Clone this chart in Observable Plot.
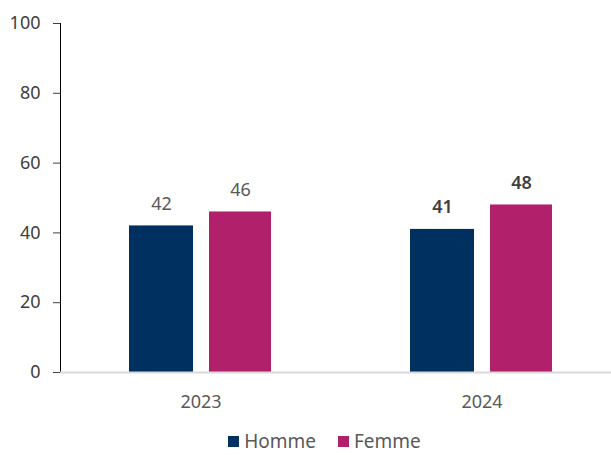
<!DOCTYPE html>
<html>
<head>
<meta charset="utf-8">
<script src="https://cdn.jsdelivr.net/npm/d3@7"></script>
<script src="https://cdn.jsdelivr.net/npm/@observablehq/plot@0.6"></script>
<style>
  body { margin: 0; background: #fff; font-family: "Noto Sans", sans-serif; overflow: hidden; }
  #legend { display: flex; justify-content: center; gap: 22px; font-size: 19px; line-height: 18px; color: #595959; height: 18px; align-items: center; margin-top: 8px; padding-left: 38px; }
  .sw { display: inline-block; width: 11px; height: 11px; margin-right: 5px; }
  .item { display: flex; align-items: center; }
</style>
</head>
<body>
<div id="chart"></div>
<div id="legend"></div>
<script>
const years = ["2023", "2024"];
const series = ["Homme", "Femme"];
const homme = [42, 41];
const femme = [46, 48];
const yTicks = [0, 20, 40, 60, 80, 100];
const colors = ["#00305F", "#B0206B"];
const labelBold = [false, true];

const data = [];
years.forEach((y, i) => {
  data.push({year: y, sex: "Homme", value: homme[i], bold: labelBold[i]});
  data.push({year: y, sex: "Femme", value: femme[i], bold: labelBold[i]});
});

const W = 611, H = 424;
const inset = {Homme: [69, 148], Femme: [149, 70]};

const marks = [];
for (const s of series) {
  const d = data.filter(r => r.sex === s);
  marks.push(Plot.barY(d, {x: "year", y: "value", fill: colors[series.indexOf(s)], insetLeft: inset[s][0], insetRight: inset[s][1]}));
  const cx = (inset[s][0] + (281 - inset[s][1])) / 2 - 140.5;
  marks.push(Plot.text(d.filter(r => !r.bold), {x: "year", y: "value", text: r => String(r.value), dx: cx, dy: -22, fill: "#595959", fontSize: 18}));
  marks.push(Plot.text(d.filter(r => r.bold), {x: "year", y: "value", text: r => String(r.value), dx: cx, dy: -22, fill: "#404040", fontSize: 18, fontWeight: 600}));
}

const chart = Plot.plot({
  width: W,
  height: H,
  marginLeft: 60,
  marginRight: 0,
  marginTop: 23,
  marginBottom: H - 372,
  style: {fontFamily: "Noto Sans, sans-serif", fontSize: "18px", color: "#404040", background: "#fff"},
  x: {domain: years, range: [60, 622], padding: 0, label: null},
  y: {domain: [0, 100], label: null},
  marks: [
    Plot.axisY({ticks: yTicks, tickSize: 7, tickPadding: 13, fontSize: 18, color: "#404040", label: null}),
    Plot.ruleX([years[0]], {x: d => d, dx: -140.5, y1: 0, y2: 100, stroke: "#000"}),
    Plot.axisX({tickSize: 0, tickPadding: 23, fontSize: 18, color: "#595959", label: null}),
    ...marks,
    Plot.ruleY([0], {stroke: "#d9d9d9", strokeWidth: 2})
  ]
});
document.getElementById("chart").appendChild(chart);

const legend = document.getElementById("legend");
series.forEach((s, i) => {
  const it = document.createElement("span");
  it.className = "item";
  it.innerHTML = `<span class="sw" style="background:${colors[i]}"></span>${s}`;
  legend.appendChild(it);
});
</script>
</body>
</html>
